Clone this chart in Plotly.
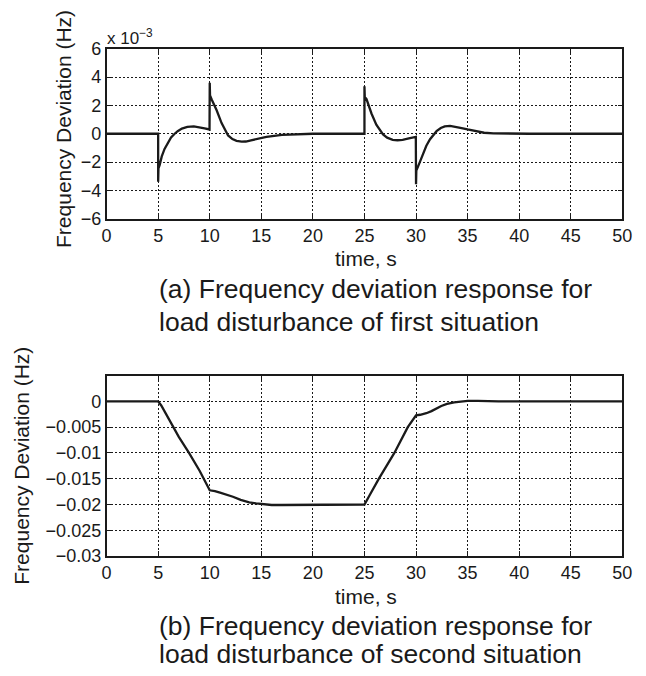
import plotly.graph_objects as go

W, H = 646, 676

# ---- data: situation 1 (Hz) ----
t1 = [0, 5, 5, 5.03, 5.15, 5.35, 5.62, 6.0, 6.25, 6.6, 6.89, 7.3, 7.83, 8.46, 9.1, 9.5, 9.98,
      10, 10.03, 10.2, 10.67, 11.15, 11.5, 11.78, 12.2, 12.6, 13.1, 13.5, 14.0, 14.5, 15.5, 17, 18.5, 20,
      25, 25, 25.03, 25.2, 25.68, 26.15, 26.8, 27.2, 27.74, 28.2, 28.7, 29.3, 29.98,
      30, 30.03, 30.26, 30.73, 31.0, 31.36, 31.99, 32.4, 32.78, 33.3, 33.73, 34.3, 35, 35.8, 36.6, 37.5, 39, 41, 50]
f1_milli = [0, 0, -3.4, -2.45, -2.2, -1.6, -1.07, -0.55, -0.27, 0.0, 0.18, 0.36, 0.48, 0.52, 0.45, 0.38, 0.3,
            3.6, 2.7, 2.4, 1.66, 0.75, 0.22, -0.12, -0.38, -0.5, -0.56, -0.55, -0.47, -0.38, -0.22, -0.08, -0.02, 0,
            0, 3.36, 2.6, 2.45, 1.43, 0.64, -0.05, -0.28, -0.43, -0.46, -0.43, -0.33, -0.23,
            -3.57, -2.6, -2.2, -1.3, -0.85, -0.39, 0.18, 0.4, 0.52, 0.56, 0.52, 0.42, 0.3, 0.17, 0.07, 0.03, 0.01, 0, 0]
f1 = [v * 1e-3 for v in f1_milli]

# ---- data: situation 2 (Hz) ----
t2 = [0, 5, 5.3, 6, 6.41, 7, 7.99, 9.03, 10, 10.5, 11, 11.5, 12.25, 13, 13.83, 14.5, 15.1, 16, 17, 18, 20, 25,
      25.5, 26.4, 27.9, 29.2, 30, 30.4, 31, 31.5, 32.45, 33, 33.7, 34.3, 35, 36, 38, 50]
f2 = [0, 0, -0.0008, -0.0034, -0.005, -0.0069, -0.01, -0.0135, -0.01725, -0.0174, -0.0177, -0.018, -0.0185,
      -0.0191, -0.0196, -0.0198, -0.0199, -0.0201, -0.0201, -0.0201, -0.0200, -0.0200,
      -0.0182, -0.015, -0.01, -0.005, -0.0027, -0.0026, -0.0023, -0.0019, -0.0009, -0.0005, -0.0002, 0.0,
      0.0001, 0.0001, 0, 0]

x_ticks = [0, 5, 10, 15, 20, 25, 30, 35, 40, 45, 50]
y1_ticks = [-0.006, -0.004, -0.002, 0, 0.002, 0.004, 0.006]
y1_labels = ["\u22126", "\u22124", "\u22122", "0", "2", "4", "6"]
y2_ticks = [-0.03, -0.025, -0.02, -0.015, -0.01, -0.005, 0]
y2_labels = ["\u22120.03", "\u22120.025", "\u22120.02", "\u22120.015", "\u22120.01", "\u22120.005", "0"]

FONT = "Liberation Sans, Arial, Helvetica, sans-serif"
INK = "#1a1a1a"

def px_x(p):
    return p / W

def px_y(p):
    return (H - p) / H

fig = go.Figure()
fig.add_trace(go.Scatter(x=t1, y=f1, mode="lines", line=dict(color=INK, width=2.3),
                         xaxis="x", yaxis="y", showlegend=False))
fig.add_trace(go.Scatter(x=t2, y=f2, mode="lines", line=dict(color=INK, width=2.3),
                         xaxis="x2", yaxis="y2", showlegend=False))

axis_common = dict(showline=True, linecolor=INK, linewidth=1.6, mirror="ticks",
                   ticks="inside", ticklen=5, tickcolor=INK, tickwidth=1,
                   showgrid=True, gridcolor=INK, gridwidth=0.8, griddash="2px,2px",
                   zeroline=False, tickfont=dict(family=FONT, size=18, color=INK))

x0, x1 = px_x(104), px_x(632)
fig.update_layout(
    width=W, height=H,
    margin=dict(l=0, r=0, t=0, b=0),
    paper_bgcolor="white", plot_bgcolor="white",
    xaxis=dict(domain=[x0, x1], range=[0, 50], tickvals=x_ticks, anchor="y", **axis_common),
    yaxis=dict(domain=[px_y(215), px_y(40)], range=[-0.006, 0.006], tickvals=y1_ticks,
               ticktext=y1_labels, anchor="x", **axis_common),
    xaxis2=dict(domain=[x0, x1], range=[0, 50], tickvals=x_ticks, anchor="y2", **axis_common),
    yaxis2=dict(domain=[px_y(562.7), px_y(376.7)], range=[-0.03, 0.005], tickvals=y2_ticks,
                ticktext=y2_labels, anchor="x2", **axis_common),
)

def ann(text, x, y, size, xanchor="center", angle=0):
    fig.add_annotation(text=text, x=x, y=y, xref="paper", yref="paper", showarrow=False,
                       xanchor=xanchor, yanchor="middle", textangle=angle,
                       font=dict(family=FONT, size=size, color=INK))

# y-axis titles
ann("Frequency Deviation (Hz)", px_x(60), px_y(123), 21, angle=-90)
ann("Frequency Deviation (Hz)", px_x(16), px_y(470), 21, angle=-90)
# exponent
ann("x 10<sup>\u22123</sup>", px_x(102), px_y(28), 17, xanchor="left")
# x titles
ann("time, s", px_x(370), px_y(256), 21)
ann("time, s", px_x(370), px_y(604), 21)
# captions
ann("(a) Frequency deviation response for", px_x(156), px_y(287), 26.5, xanchor="left")
ann("load disturbance of first situation", px_x(156), px_y(321), 26.5, xanchor="left")
ann("(b) Frequency deviation response for", px_x(156), px_y(635), 26.5, xanchor="left")
ann("load disturbance of second situation", px_x(156), px_y(664), 26.5, xanchor="left")

fig.write_html("out.html")
